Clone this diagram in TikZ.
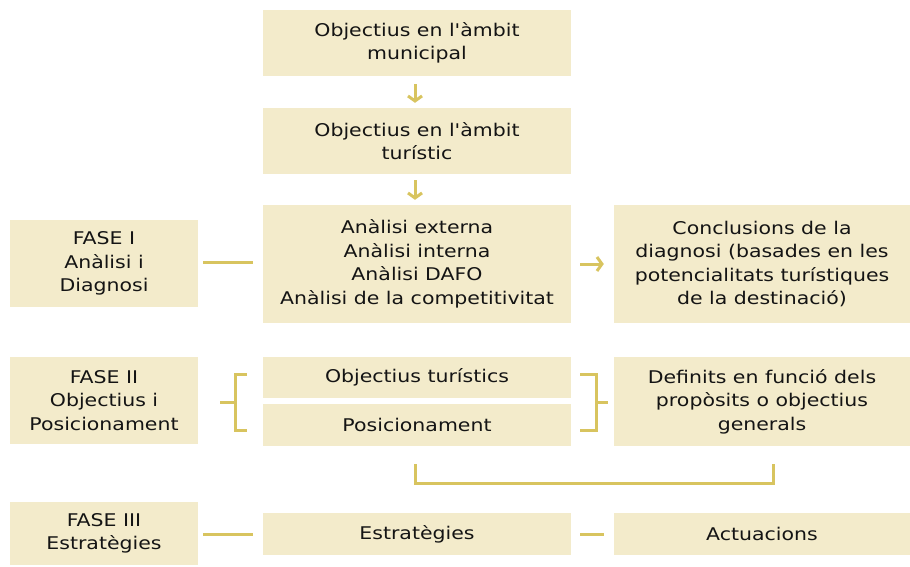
\documentclass[tikz,border=0pt]{standalone}
\usepackage{fontspec}
\setmainfont{DejaVu Sans}[FakeStretch=1.17, Ligatures=TeXOff]
\usetikzlibrary{arrows.meta,calc}
\definecolor{boxfill}{RGB}{243,235,203}
\definecolor{gold}{RGB}{216,196,95}
\definecolor{txt}{RGB}{20,20,20}
\tikzset{
  box/.style={fill=boxfill, draw=none, text=txt, align=center, inner sep=0pt,
    font=\fontsize{17.5}{23.5}\selectfont},
  conn/.style={draw=gold, line width=3pt},
  arr/.style={conn, -{Straight Barb[length=5pt,width=14pt,line width=3pt]}},
}
\begin{document}
\begin{tikzpicture}[x=1pt,y=-1pt]
\useasboundingbox (0,0) rectangle (910,567);
% column 2
\node[box, minimum width=308pt, minimum height=66pt] (b1) at (417,43) {Objectius en l'àmbit\\municipal};
\node[box, minimum width=308pt, minimum height=66pt] (b2) at (417,141) {Objectius en l'àmbit\\turístic};
\node[box, minimum width=308pt, minimum height=118pt] (b3) at (417,264) {Anàlisi externa\\Anàlisi interna\\Anàlisi DAFO\\Anàlisi de la competitivitat};
\node[box, minimum width=308pt, minimum height=41pt] (obj) at (417,377.5) {Objectius turístics};
\node[box, minimum width=308pt, minimum height=42pt] (pos) at (417,425) {Posicionament};
\node[box, minimum width=308pt, minimum height=42pt] (estr) at (417,534) {Estratègies};
% column 1
\node[box, minimum width=188pt, minimum height=87pt] (f1) at (104,263.5) {FASE I\\Anàlisi i\\Diagnosi};
\node[box, minimum width=188pt, minimum height=87pt] (f2) at (104,400.5) {FASE II\\Objectius i\\Posicionament};
\node[box, minimum width=188pt, minimum height=63pt] (f3) at (104,533.5) {FASE III\\Estratègies};
% column 3
\node[box, minimum width=296pt, minimum height=118pt] (c1) at (762,264) {Conclusions de la\\diagnosi (basades en les\\potencialitats turístiques\\de la destinació)};
\node[box, minimum width=296pt, minimum height=89pt] (c2) at (762,401.5) {Definits en funció dels\\propòsits o objectius\\generals};
\node[box, minimum width=296pt, minimum height=42pt] (c3) at (762,534) {Actuacions};
% arrows
\draw[arr, shorten <=8pt, shorten >=5pt] ([xshift=-2pt]b1.south) -- ([xshift=-2pt]b2.north);
\draw[arr, shorten <=6pt, shorten >=5pt] ([xshift=-2pt]b2.south) -- ([xshift=-2pt]b3.north);
\draw[arr, shorten <=9pt, shorten >=10pt] (b3.east |- c1.west) -- (c1.west);
% plain connectors
\draw[conn, shorten <=5pt, shorten >=10pt] (f1.east |- 0,262) -- (b3.west |- 0,262);
\draw[conn, shorten <=5pt, shorten >=10pt] (f3.east |- estr.west) -- (estr.west);
\draw[conn, shorten <=9pt, shorten >=10pt] (estr.east) -- (c3.west);
% left bracket
\coordinate (lbt) at (247,374);
\coordinate (lbb) at (247,430);
\draw[conn] ([xshift=22pt]f2.east |- 0,402) -- (235,402);
\draw[conn] (lbt) -- (235,374) -- (235,430) -- (lbb);
% right bracket
\coordinate (rbt) at (580,374);
\coordinate (rbb) at (580,430);
\draw[conn] (rbt) -- (596,374) -- (596,430) -- (rbb);
\draw[conn] (596,402) -- ([xshift=-6pt]c2.west |- 0,402);
% bottom bracket
\coordinate (bbl) at (415,464);
\coordinate (bbr) at (773,464);
\draw[conn] (bbl) |- (773,483) -- (bbr);
\end{tikzpicture}
\end{document}
